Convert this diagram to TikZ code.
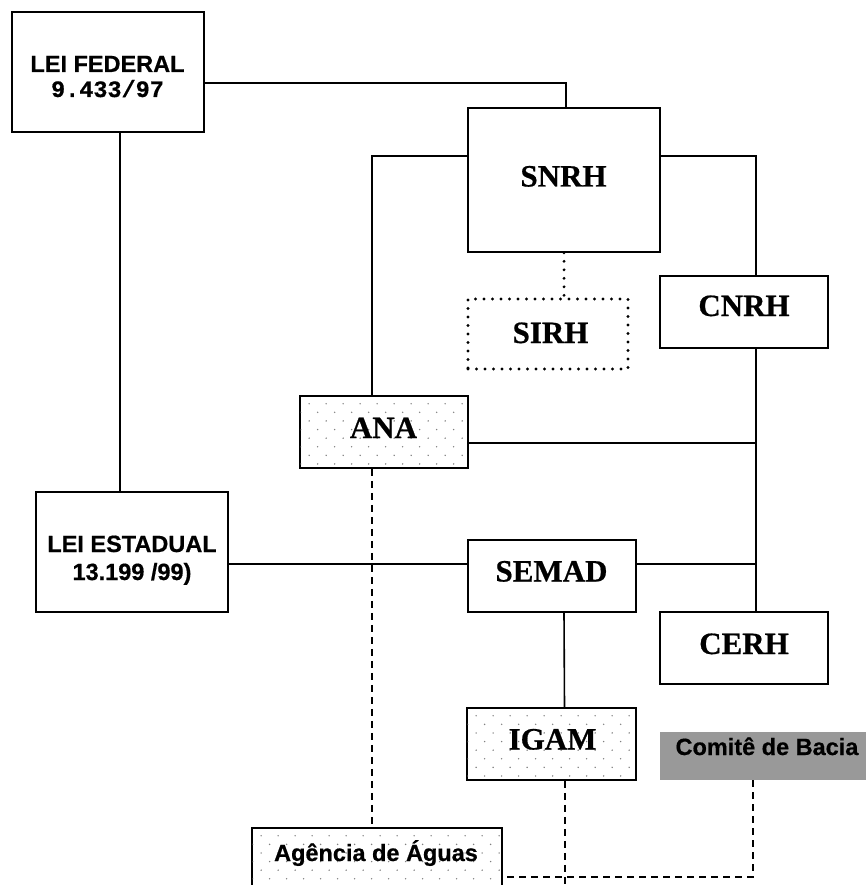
\documentclass[tikz,border=0pt]{standalone}
\usepackage{fontspec}
\setmainfont{Liberation Serif}[BoldFeatures={FakeBold=0.6}]
\newfontfamily\arialf{Liberation Sans}[BoldFeatures={FakeBold=0.6}]
\newfontfamily\courf{Liberation Mono}[BoldFeatures={FakeBold=0.6}]
\usetikzlibrary{calc}
\definecolor{stip}{gray}{0.5}
\definecolor{cbox}{gray}{0.6}
\tikzset{
  box/.style={draw, line width=1.7pt, fill=white, inner sep=0pt},
  dotbox/.style={draw, line width=3.2pt, line cap=round, dash pattern=on 0pt off 8.5pt, fill=white, inner sep=0pt},
  tx/.style={anchor=base, inner sep=0pt, font=\fontsize{31}{31}\selectfont\bfseries},
  ax/.style={anchor=base, inner sep=0pt, font=\arialf\fontsize{23.5}{23.5}\selectfont\bfseries},
  cx/.style={anchor=base, inner sep=0pt, font=\courf\fontsize{23.5}{23.5}\selectfont\bfseries},
  link/.style={line width=1.6pt},
  dashlink/.style={line width=1.5pt, dash pattern=on 7pt off 5pt},
  dotlink/.style={line width=3.2pt, line cap=round, dash pattern=on 0pt off 8.5pt}
}
\newcommand\stipple[1]{%
  \begin{scope}
    \clip ($(#1.north west)+(1.4,1.4)$) rectangle ($(#1.south east)+(-1.4,-1.4)$);
    \foreach \r in {0,...,12}{
      \pgfmathsetmacro\off{mod(\r,2)*8.5}
      \foreach \c in {0,...,15}{
        \fill[stip] ($(#1.north west)+(\c*17+\off+1.5,\r*8.6)$) circle (0.8pt);
      }
    }
  \end{scope}}
\begin{document}
\begin{tikzpicture}[x=1pt,y=-1pt]
\clip (0,0) rectangle (866,885);
\fill[white] (0,0) rectangle (866,885);
% boxes
\node[box, minimum width=192pt, minimum height=120pt] (lf) at (108,72) {};
\node[box, minimum width=192pt, minimum height=144pt] (snrh) at (564,180) {};
\node[dotbox, minimum width=160pt, minimum height=70pt] (sirh) at (548,334) {};
\node[box, minimum width=168pt, minimum height=72pt] (cnrh) at (744,312) {};
\node[box, minimum width=168pt, minimum height=72pt] (ana) at (384,432) {};
\node[box, minimum width=192pt, minimum height=120pt] (le) at (132,552) {};
\node[box, minimum width=168pt, minimum height=72pt] (semad) at (552,576) {};
\node[box, minimum width=168pt, minimum height=72pt] (cerh) at (744,648) {};
\node[box, minimum width=169pt, minimum height=72pt] (igam) at (551.5,744) {};
\node[fill=cbox, inner sep=0pt, minimum width=210pt, minimum height=48pt] (comite) at (765,756) {};
\node[box, minimum width=250pt, minimum height=72pt] (agencia) at (377,864) {};
\stipple{ana}
\stipple{igam}
\stipple{agencia}
% connectors
\draw[link] ($(lf.east)+(0,11)$) -| ($(snrh.north)+(2,0)$);
\draw[link] ($(lf.south)+(12,0)$) -- ($(le.north)+(-12,0)$);
\draw[link] ($(snrh.west)+(0,-24)$) -| ($(ana.north)+(-12,0)$);
\draw[link] ($(snrh.east)+(0,-24)$) -| ($(cnrh.north)+(12,0)$);
\draw[dotlink] (snrh.south) -- ($(sirh.north)+(16,0)$);
\coordinate (spine) at ($(cnrh.south)+(12,0)$);
\draw[link] (spine) -- ($(cerh.north)+(12,0)$);
\coordinate (anaR) at ($(ana.east)+(0,11)$);
\draw[link] (anaR) -- (anaR -| spine);
\coordinate (leR) at ($(le.east)+(0,12)$);
\draw[link] (leR) -- (leR -| semad.west);
\coordinate (semR) at ($(semad.east)+(0,-12)$);
\draw[link] (semR) -- (semR -| spine);
\draw[link] ($(semad.south)+(12,0)$) -- ($(igam.north)+(13,0)$);
\draw[dashlink] ($(ana.south)+(-12,0)$) -- ($(agencia.north)+(-5,0)$);
\coordinate (igamEnd) at (565,890);
\draw[dashlink] ($(igam.south)+(13.5,0)$) -- (igamEnd);
\coordinate (agR) at ($(agencia.east)+(0,13)$);
\draw[dashlink] ($(comite.south)+(-12,0)$) |- (agR);
% texts
\node[ax] (tlf) at (107.5,72) {LEI FEDERAL};
\node[cx] (tlfn) at (107.5,97) {9.433/97};
\node[tx] (tsnrh) at (563.5,186.5) {SNRH};
\node[tx] (tsirh) at (550.5,343) {SIRH};
\node[tx] (tcnrh) at (744,316) {CNRH};
\node[tx] (tana) at (383.5,438) {ANA};
\node[ax] (tle) at (132,552) {LEI ESTADUAL};
\node[ax] (tlen) at (132,580) {13.199 /99)};
\node[tx] (tsemad) at (551.5,581.5) {SEMAD};
\node[tx] (tcerh) at (744,654) {CERH};
\node[tx] (tigam) at (552.5,749.5) {IGAM};
\node[ax] (tcom) at (767,755) {Comitê de Bacia};
\node[ax] (tag) at (376,861) {Agência de Águas};
\end{tikzpicture}
\end{document}
